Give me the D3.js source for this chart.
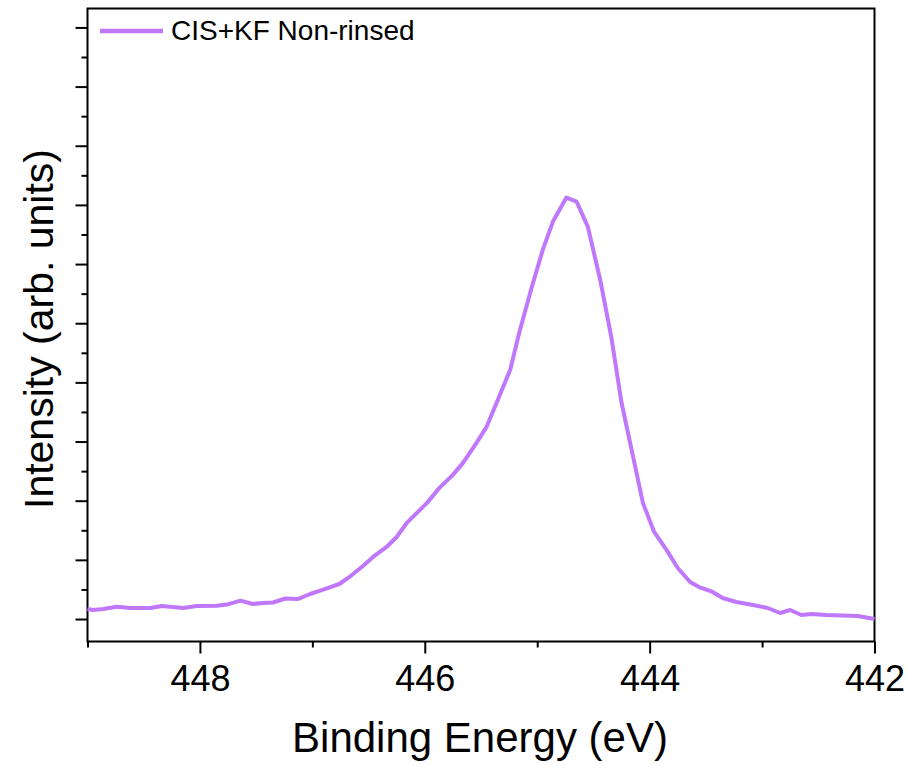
<!DOCTYPE html>
<html>
<head>
<meta charset="utf-8">
<script src="https://cdn.jsdelivr.net/npm/d3@7"></script>
<style>
  html, body { margin: 0; padding: 0; background: #fff; }
  svg { display: block; }
  text { font-family: "Liberation Sans", Arial, sans-serif; fill: #000; }
</style>
</head>
<body>
<svg id="chart" width="907" height="765"></svg>
<script>
// ---- data ----
const seriesName = "CIS+KF Non-rinsed";
const energy = [449.00, 448.95, 448.86, 448.74, 448.62, 448.44, 448.34, 448.15, 448.03, 447.85,
  447.76, 447.64, 447.53, 447.44, 447.35, 447.24, 447.13, 447.02, 446.91, 446.76,
  446.67, 446.55, 446.46, 446.34, 446.25, 446.16, 446.07, 445.98, 445.87, 445.75,
  445.66, 445.60, 445.54, 445.45, 445.35, 445.24, 445.16, 445.05, 444.95, 444.86,
  444.74, 444.65, 444.55, 444.44, 444.34, 444.25, 444.16, 444.06, 443.96, 443.85,
  443.75, 443.64, 443.56, 443.44, 443.35, 443.23, 443.08, 442.95, 442.84, 442.75,
  442.65, 442.56, 442.43, 442.29, 442.15, 442.00];
const intensity = [0.169, 0.152, 0.169, 0.208, 0.186, 0.186, 0.220, 0.186, 0.220, 0.225,
  0.244, 0.310, 0.254, 0.271, 0.279, 0.347, 0.338, 0.423, 0.491, 0.592,
  0.711, 0.897, 1.049, 1.218, 1.387, 1.624, 1.794, 1.963, 2.217, 2.437,
  2.640, 2.809, 2.978, 3.249, 3.706, 4.213, 4.839, 5.601, 6.244, 6.718,
  7.124, 7.056, 6.633, 5.736, 4.755, 3.655, 2.860, 1.963, 1.472, 1.168,
  0.863, 0.626, 0.541, 0.457, 0.355, 0.288, 0.237, 0.186, 0.102, 0.152,
  0.068, 0.085, 0.068, 0.059, 0.051, 0.000];
const xMajorTicks = [448, 446, 444, 442];
const xMinorTicks = [449, 447, 445, 443];
const yMajorTicks = [0, 1, 2, 3, 4, 5, 6, 7, 8, 9, 10];
const yMinorTicks = [0.5, 1.5, 2.5, 3.5, 4.5, 5.5, 6.5, 7.5, 8.5, 9.5];
const xTitle = "Binding Energy (eV)";
const yTitle = "Intensity (arb. units)";

// ---- layout ----
const svg = d3.select("#chart");
const L = 87.5, R = 874.5, T = 8.5, B = 641.5;
const lineColor = "#bf77fb";

const x = d3.scaleLinear().domain([449, 442]).range([L, R]);
const y = d3.scaleLinear().domain([-0.38, 10.32]).range([B, T]);

// frame
svg.append("rect")
  .attr("x", L).attr("y", T).attr("width", R - L).attr("height", B - T)
  .attr("fill", "none").attr("stroke", "#000").attr("stroke-width", 2);

// x axis
const xAxisMajor = d3.axisBottom(x).tickValues(xMajorTicks).tickSize(12).tickPadding(12)
  .tickFormat(d3.format("d"));
const gx = svg.append("g").attr("transform", `translate(0,${B})`).call(xAxisMajor);
gx.select(".domain").remove();
gx.selectAll(".tick line").attr("stroke-width", 2);
gx.selectAll(".tick text").style("font-size", "36px").attr("font-family", "Liberation Sans, Arial, sans-serif");

const xAxisMinor = d3.axisBottom(x).tickValues(xMinorTicks).tickSize(6).tickFormat("");
const gxm = svg.append("g").attr("transform", `translate(0,${B})`).call(xAxisMinor);
gxm.select(".domain").remove();
gxm.selectAll(".tick line").attr("stroke-width", 2);

// y axis (no labels)
const yAxisMajor = d3.axisLeft(y).tickValues(yMajorTicks).tickSize(12).tickFormat("");
const gy = svg.append("g").attr("transform", `translate(${L},0)`).call(yAxisMajor);
gy.select(".domain").remove();
gy.selectAll(".tick line").attr("stroke-width", 2);

const yAxisMinor = d3.axisLeft(y).tickValues(yMinorTicks).tickSize(6).tickFormat("");
const gym = svg.append("g").attr("transform", `translate(${L},0)`).call(yAxisMinor);
gym.select(".domain").remove();
gym.selectAll(".tick line").attr("stroke-width", 2);

// titles
svg.append("text")
  .attr("x", 480).attr("y", 752)
  .attr("text-anchor", "middle")
  .style("font-size", "42px")
  .text(xTitle);

svg.append("text")
  .attr("transform", `translate(53,329) rotate(-90)`)
  .attr("text-anchor", "middle")
  .style("font-size", "41px")
  .text(yTitle);

// line
const data = energy.map((e, i) => ({ e, v: intensity[i] }));
const line = d3.line().x(d => x(d.e)).y(d => y(d.v));
svg.append("path")
  .datum(data)
  .attr("d", line)
  .attr("fill", "none")
  .attr("stroke", lineColor)
  .attr("stroke-width", 4)
  .attr("stroke-linejoin", "round");

// legend
const lg = svg.append("g");
lg.append("line")
  .attr("x1", 100).attr("x2", 163).attr("y1", 31).attr("y2", 31)
  .attr("stroke", lineColor).attr("stroke-width", 4.5);
lg.append("text")
  .attr("x", 171).attr("y", 40)
  .style("font-size", "28px")
  .text(seriesName);
</script>
</body>
</html>
